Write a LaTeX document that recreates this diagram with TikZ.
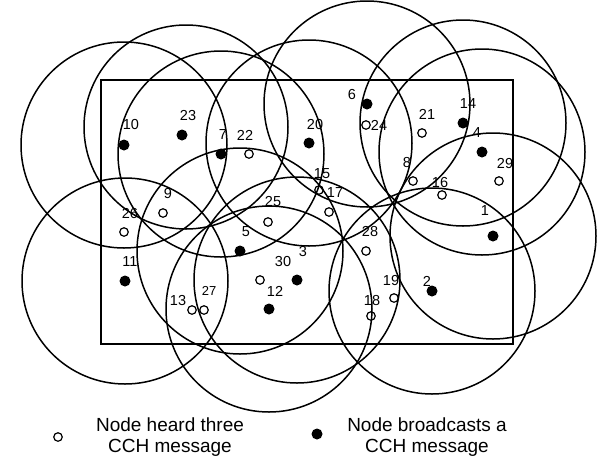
\documentclass[tikz,border=0pt]{standalone}
\usepackage{fontspec}
\setmainfont{Liberation Sans}
\begin{document}
\begin{tikzpicture}[x=1pt,y=-1pt,
  txrange/.style={draw=black, line width=1.5pt},
  area/.style={draw=black, line width=1.5pt},
  sender/.style={circle, fill=black, inner sep=0pt, minimum size=11pt},
  listener/.style={circle, draw=black, line width=1.2pt, inner sep=0pt, minimum size=8.5pt},
  lbl/.style={font=\fontsize{14.5}{15}\selectfont, inner sep=0pt},
  legendtext/.style={font=\fontsize{19}{21}\selectfont, align=center, inner sep=0pt, anchor=north}]
\useasboundingbox (0,0) rectangle (602,464);

% deployment area
\draw[area] (101,80) rectangle (513,344);

% nodes that broadcast a CCH message
\node[sender] (n1)  at (493,236) {};
\node[sender] (n2)  at (432,291) {};
\node[sender] (n3)  at (297,280) {};
\node[sender] (n4)  at (482,152) {};
\node[sender] (n5)  at (240,251) {};
\node[sender] (n6)  at (367,104) {};
\node[sender] (n7)  at (221,154) {};
\node[sender] (n10) at (124,145) {};
\node[sender] (n11) at (125,281) {};
\node[sender] (n12) at (269,309) {};
\node[sender] (n14) at (463,123) {};
\node[sender] (n20) at (309,143) {};
\node[sender] (n23) at (182,135) {};

% transmission ranges of the broadcasting nodes
\foreach \s in {n1,n2,n3,n4,n5,n6,n7,n10,n11,n12,n14,n20}
  \draw[txrange] (\s) circle[radius=103pt];
\draw[txrange] (n23) ++(4,-8) circle[radius=102pt];

% nodes that heard three CCH messages
\node[listener] (n8)  at (413,181) {};
\node[listener] (n9)  at (163,213) {};
\node[listener] (n13) at (192,310) {};
\node[listener] (n15) at (319,190) {};
\node[listener] (n16) at (442,195) {};
\node[listener] (n17) at (329,212) {};
\node[listener] (n18) at (371,316) {};
\node[listener] (n19) at (394,298) {};
\node[listener] (n21) at (422,133) {};
\node[listener] (n22) at (249,154) {};
\node[listener] (n24) at (366,125) {};
\node[listener] (n25) at (268,222) {};
\node[listener] (n26) at (124,232) {};
\node[listener] (n27) at (204,310) {};
\node[listener] (n28) at (366,251) {};
\node[listener] (n29) at (499,181) {};
\node[listener] (n30) at (260,280) {};

% node numbers
\node[lbl] (t1)  at (485,211) {1};
\node[lbl] (t2)  at (427,281) {2};
\node[lbl] (t3)  at (303,252) {3};
\node[lbl] (t4)  at (477,133) {4};
\node[lbl] (t5)  at (246,232) {5};
\node[lbl] (t6)  at (352,95)  {6};
\node[lbl] (t7)  at (223,135) {7};
\node[lbl] (t8)  at (407,163) {8};
\node[lbl] (t9)  at (168,194) {9};
\node[lbl] (t10) at (131,125) {10};
\node[lbl] (t11) at (130,262) {11};
\node[lbl] (t12) at (275,291) {12};
\node[lbl] (t13) at (178,301) {13};
\node[lbl] (t14) at (468,104) {14};
\node[lbl] (t15) at (322,174) {15};
\node[lbl] (t16) at (440,183) {16};
\node[lbl] (t17) at (335,193) {17};
\node[lbl] (t18) at (372,301) {18};
\node[lbl] (t19) at (391,281) {19};
\node[lbl] (t20) at (315,125) {20};
\node[lbl] (t21) at (427,114) {21};
\node[lbl] (t22) at (245,135) {22};
\node[lbl] (t23) at (188,116) {23};
\node[lbl] (t24) at (379,125) {24};
\node[lbl] (t25) at (273,202) {25};
\node[lbl] (t26) at (130,214) {26};
\node[lbl,font=\fontsize{13}{13}\selectfont] (t27) at (209,291) {27};
\node[lbl] (t28) at (370,232) {28};
\node[lbl] (t29) at (505,164) {29};
\node[lbl] (t30) at (283,262) {30};

% legend
\node[listener] (keyheard) at (58,437) {};
\node[legendtext] (keyheardtext) at (170,418) {Node heard three\\CCH message};
\node[sender] (keysent) at (317,434) {};
\node[legendtext] (keysenttext) at (427,418) {Node broadcasts a\\CCH message};
\end{tikzpicture}
\end{document}
